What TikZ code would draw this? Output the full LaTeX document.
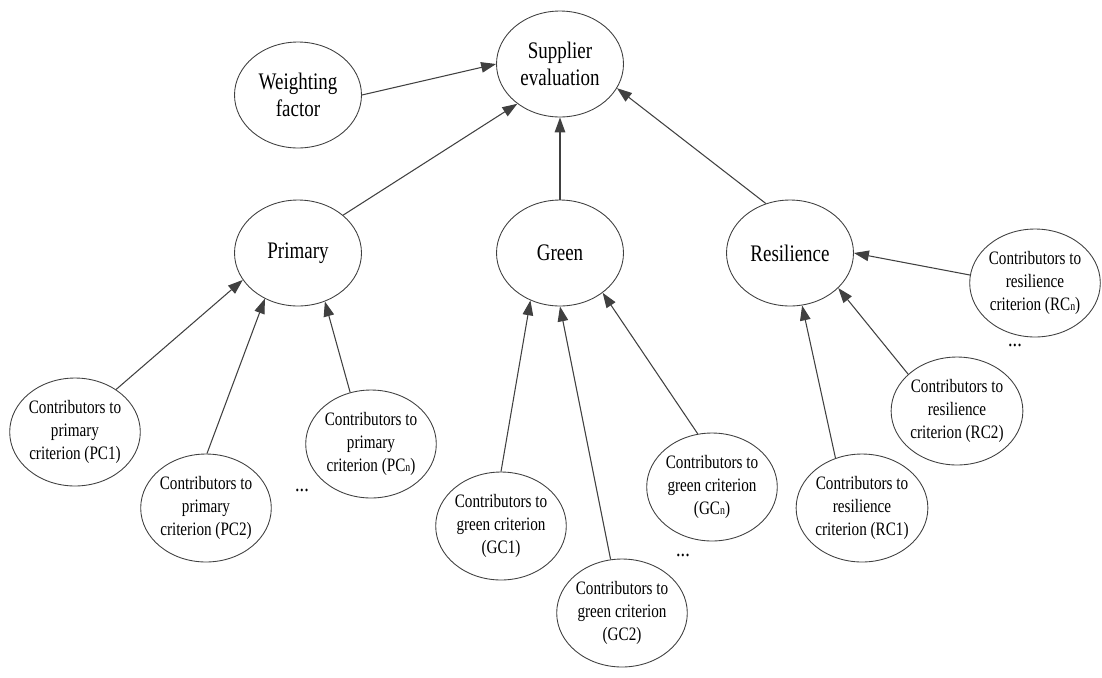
\documentclass[tikz,border=0pt]{standalone}
\usepackage{fontspec}
\setmainfont[FakeStretch=0.8]{Liberation Serif}
\usetikzlibrary{arrows.meta,shapes.geometric}
\newcommand{\subn}{{\fontsize{7}{7}\selectfont n}}
\begin{document}
\begin{tikzpicture}[x=0.02cm,y=-0.02cm,
  big/.style={draw=black!75,line width=0.5pt,ellipse,inner sep=0pt,
    minimum width=2.54cm,minimum height=2.12cm,align=center,
    font=\fontsize{13.5}{15}\selectfont},
  small/.style={draw=black!75,line width=0.5pt,ellipse,inner sep=0pt,
    minimum width=2.6cm,minimum height=2.16cm,align=center,
    font=\fontsize{10.8}{13.2}\selectfont},
  link/.style={draw=black!75,line width=0.6pt,-{Triangle[length=8.5pt,width=6pt]}}]
  \useasboundingbox (0,0) rectangle (1102,677);
  % top level
  \node[big] (se) at (560,64) {Supplier\\evaluation};
  \node[big] (wf) at (298,95) {Weighting\\factor};
  % criteria
  \node[big] (pri) at (298,253) {Primary};
  \node[big] (grn) at (560,253) {Green};
  \node[big] (res) at (790,253) {Resilience};
  % contributors
  \node[small] (pc1) at (75,432) {Contributors to\\primary\\criterion (PC1)};
  \node[small] (pc2) at (206,508) {Contributors to\\primary\\criterion (PC2)};
  \node[small] (pcn) at (371,444) {Contributors to\\primary\\criterion (PC\subn)};
  \node[small] (gc1) at (501,526) {Contributors to\\green criterion\\(GC1)};
  \node[small] (gc2) at (622,613) {Contributors to\\green criterion\\(GC2)};
  \node[small] (gcn) at (712,487) {Contributors to\\green criterion\\(GC\subn)};
  \node[small] (rc1) at (862,508) {Contributors to\\resilience\\criterion (RC1)};
  \node[small] (rc2) at (957,411) {Contributors to\\resilience\\criterion (RC2)};
  \node[small] (rcn) at (1035,283) {Contributors to\\resilience\\criterion (RC\subn)};
  \node[font=\fontsize{13}{14}\selectfont] (pdots) at (302,490) {...};
  \node[font=\fontsize{13}{14}\selectfont] (gdots) at (683,555) {...};
  \node[font=\fontsize{13}{14}\selectfont] (rdots) at (1015,345) {...};
  % edges
  \draw[link] (wf.0) -- (se.180);
  \draw[link] (pri.40) -- (se.223);
  \draw[link] (grn.90) -- (se.270);
  \draw[link] (res.116) -- (se.337);
  \draw[link] (pc1.46) -- (pri.206);
  \draw[link] (pc2.89) -- (pri.234);
  \draw[link] (pcn.112) -- (pri.299);
  \draw[link] (gc1.90) -- (grn.238);
  \draw[link] (gc2.102) -- (grn.270);
  \draw[link] (gcn.105) -- (grn.317);
  \draw[link] (rc1.118) -- (res.283);
  \draw[link] (rc2.143) -- (res.324);
  \draw[link] (rcn.173) -- (res.0);
\end{tikzpicture}
\end{document}
